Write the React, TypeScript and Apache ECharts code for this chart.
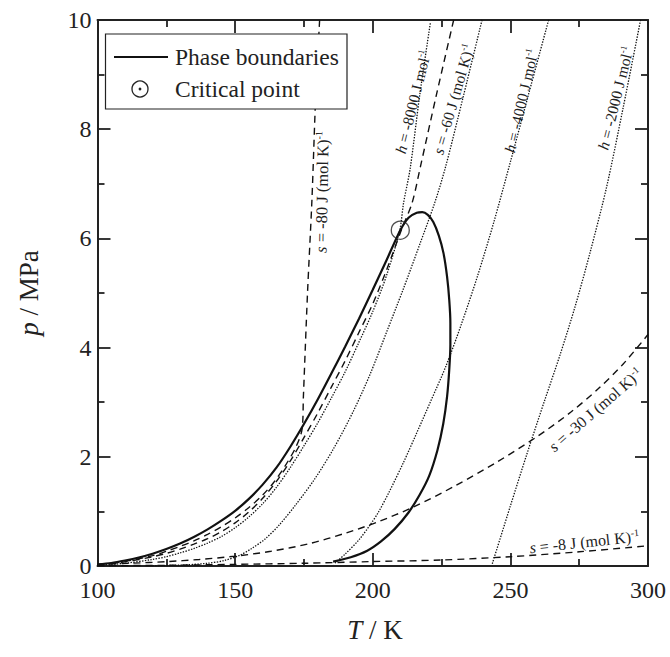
import React, { useEffect, useRef } from "react";
import * as echarts from "echarts";

const FONT = "Liberation Serif";
const INK = "#222";

// Phase envelope (bubble line -> critical region -> dew line), T / K, p / MPa
const phaseBoundary: number[][] = [
  [100, 0.03], [105, 0.055], [110, 0.1], [115, 0.155], [120, 0.225], [125, 0.31],
  [130, 0.41], [135, 0.53], [140, 0.67], [145, 0.83], [150, 1.01], [155, 1.23],
  [160, 1.49], [165, 1.8], [170, 2.18], [175, 2.6], [180, 3.05], [185, 3.53],
  [190, 4.02], [195, 4.53], [200, 5.06], [205, 5.6], [210, 6.15], [213, 6.38],
  [216, 6.47], [218, 6.48], [220, 6.43], [222, 6.3], [224, 6.05], [225.7, 5.73],
  [227, 5.3], [227.8, 4.87], [228.2, 4.45], [228.2, 4.05], [227.8, 3.6], [227, 3.1],
  [225.6, 2.6], [223.5, 2.12], [220.5, 1.65], [217, 1.3], [213, 0.98], [208, 0.68],
  [203, 0.45], [198, 0.28], [192, 0.16], [185.6, 0.08],
];

const criticalPoint: number[][] = [[210, 6.15]];

// Isentropes
const sMinus80: number[][] = [
  [180.7, 10], [179.2, 8.5], [177.9, 6.7], [176.3, 5], [174.8, 3.1], [174.3, 2.5],
  [172, 2.17], [168, 1.82], [164, 1.53], [160, 1.3], [155, 1.07], [150, 0.88],
  [145, 0.72], [140, 0.58], [135, 0.46], [130, 0.36], [125, 0.27], [120, 0.19],
  [110, 0.085], [100, 0.025],
];
const sMinus60: number[][] = [
  [229.4, 10], [223, 8.6], [217.3, 7.31], [214.3, 6.65], [210.6, 6.18], [205, 5.42],
  [200, 4.8], [195, 4.28], [190, 3.76], [185, 3.28], [180, 2.8], [175, 2.35],
  [170, 1.92], [165, 1.55], [160, 1.24], [155, 0.99], [150, 0.79], [145, 0.63],
  [140, 0.5], [135, 0.4], [130, 0.31], [125, 0.23], [120, 0.17], [110, 0.075],
  [100, 0.02],
];
const sMinus30: number[][] = [
  [100, 0.03], [112, 0.05], [125, 0.08], [137, 0.12], [150, 0.18], [163, 0.27],
  [177, 0.41], [190, 0.6], [201.5, 0.8], [214.8, 1.08], [230, 1.47], [245, 1.9],
  [259.7, 2.37], [272, 2.82], [282, 3.25], [291, 3.7], [300, 4.24],
];
const sMinus8: number[][] = [
  [100, 0.005], [125, 0.012], [150, 0.03], [175, 0.05], [199, 0.08], [225, 0.11],
  [250, 0.17], [275, 0.26], [300, 0.37],
];

// Isenthalps
const hMinus8000: number[][] = [
  [220.9, 9.94], [217, 8.6], [213.6, 7.28], [211.2, 6.65], [209.8, 6.15], [205, 5.32],
  [200, 4.66], [195, 4.1], [190, 3.56], [185, 3.08], [180, 2.62], [175, 2.2],
  [170, 1.8], [165, 1.44], [160, 1.14], [155, 0.9], [150, 0.7], [145, 0.54],
  [140, 0.42], [135, 0.32], [130, 0.24], [125, 0.17], [120, 0.12], [110, 0.05],
  [100, 0.012],
];
const hMinus6000: number[][] = [
  [239.7, 10], [233, 8.62], [226.4, 7.3], [222.5, 6.65], [217, 5.88], [211, 5.06],
  [205, 4.28], [199.1, 3.52], [193, 2.84], [186, 2.17], [179, 1.6], [172, 1.12],
  [166, 0.75], [161, 0.5], [156, 0.32], [151.8, 0.2], [146, 0.1], [140, 0.05],
  [130, 0.015], [120, 0.005],
];
const hMinus4000: number[][] = [
  [263.9, 10], [256.5, 8.62], [250, 7.4], [244, 6.3], [238, 5.3], [232, 4.4],
  [226.5, 3.65], [220.9, 3.0], [216, 2.44], [211.2, 1.9], [206, 1.36], [202, 0.98],
  [199, 0.75], [195, 0.48], [190, 0.22], [185.8, 0.03],
];
const hMinus2000: number[][] = [
  [297.3, 10], [291, 8.4], [285, 6.95], [279, 5.75], [273.5, 4.75], [268, 3.86],
  [262.5, 3.04], [256, 2.05], [250, 1.1], [243.3, 0.02],
];

// Axis range and ticks
const xMin = 100, xMax = 300, xStep = 50;
const yMin = 0, yMax = 10, yStep = 2;

// Curve annotations (anchor in data coordinates, angle in degrees)
const curveLabels = [
  { text: "{i|s} = -80 J (mol K){sup|-1}", T: 181.6, p: 6.85, angle: 89, size: 16.5 },
  { text: "{i|h} = -8000 J mol{sup|-1}", T: 214.6, p: 8.5, angle: 76, size: 15.5 },
  { text: "{i|s} = -60 J (mol K){sup|-1}", T: 229.3, p: 8.55, angle: 74, size: 15.5 },
  { text: "{i|h} = -4000 J mol{sup|-1}", T: 254.0, p: 8.52, angle: 77, size: 15.5 },
  { text: "{i|h} = -2000 J mol{sup|-1}", T: 288.2, p: 8.57, angle: 76, size: 15.5 },
  { text: "{i|s} = -30 J (mol K){sup|-1}", T: 280.9, p: 2.86, angle: 41, size: 16 },
  { text: "{i|s} = -8 J (mol K){sup|-1}", T: 276.9, p: 0.44, angle: 6, size: 16 },
];

const richFor = (size: number) => ({
  i: { fontStyle: "italic", fontFamily: FONT, fontSize: size, fill: INK, color: INK, lineHeight: size + 2 },
  sup: { fontFamily: FONT, fontSize: Math.round(size * 0.6), color: INK, fill: INK, verticalAlign: "top", lineHeight: Math.round(size * 0.6) },
});

const dashed = { type: [7, 5] as any, width: 1.4, color: "#111" };
const dotted = { type: [1.4, 1.4] as any, width: 1.3, color: "#111" };

function lineSeries(name: string, data: number[][], style: any, z = 2) {
  return {
    name,
    type: "line",
    data,
    showSymbol: false,
    smooth: 0.3,
    lineStyle: style,
    z,
    silent: true,
  };
}

function makeAxis(kind: "x" | "y", position: string, withLabels: boolean) {
  const isX = kind === "x";
  return {
    type: "value",
    min: isX ? xMin : yMin,
    max: isX ? xMax : yMax,
    interval: isX ? xStep : yStep,
    position,
    axisLine: { show: true, onZero: false, lineStyle: { color: INK, width: 2 } },
    axisTick: { show: true, inside: true, length: 13, lineStyle: { color: INK, width: 1.8 } },
    minorTick: { show: true, splitNumber: 2, length: 7, lineStyle: { color: INK, width: 1.8 } },
    splitLine: { show: false },
    minorSplitLine: { show: false },
    axisLabel: withLabels
      ? { show: true, margin: isX ? 12 : 6, color: INK, fontFamily: FONT, fontSize: 24 }
      : { show: false },
  };
}

export default function App() {
  const ref = useRef<HTMLDivElement>(null);

  useEffect(() => {
    if (!ref.current) return;
    const chart = echarts.init(ref.current, undefined, { renderer: "svg" });

    chart.setOption({
      animation: false,
      backgroundColor: "#fff",
      textStyle: { fontFamily: FONT, color: INK },
      grid: { left: 97.5, right: 22, top: 20, bottom: 91, containLabel: false },
      xAxis: [makeAxis("x", "bottom", true), makeAxis("x", "top", false)],
      yAxis: [makeAxis("y", "left", true), makeAxis("y", "right", false)],
      series: [
        lineSeries("s = -8", sMinus8, dashed),
        lineSeries("s = -30", sMinus30, dashed),
        lineSeries("h = -2000", hMinus2000, dotted),
        lineSeries("h = -4000", hMinus4000, dotted),
        lineSeries("h = -6000", hMinus6000, dotted),
        lineSeries("h = -8000", hMinus8000, dotted),
        lineSeries("s = -60", sMinus60, dashed),
        lineSeries("s = -80", sMinus80, dashed),
        {
          ...lineSeries("Phase boundaries", phaseBoundary, { width: 2.2, color: "#111", type: "solid" }, 5),
          smooth: 0.25,
        },
        {
          name: "Critical point",
          type: "scatter",
          data: criticalPoint,
          symbol: "circle",
          symbolSize: 18,
          itemStyle: { color: "rgba(0,0,0,0)", borderColor: INK, borderWidth: 1.3 },
          z: 6,
          silent: true,
        },
      ],
    });

    const toPx = (T: number, p: number) =>
      chart.convertToPixel({ xAxisIndex: 0, yAxisIndex: 0 } as any, [T, p]) as number[];

    const graphics: any[] = [];

    curveLabels.forEach((l) => {
      const pt = toPx(l.T, l.p);
      graphics.push({
        type: "text",
        x: pt[0],
        y: pt[1],
        rotation: (l.angle * Math.PI) / 180,
        z: 20,
        silent: true,
        style: {
          text: l.text,
          rich: richFor(l.size),
          fontFamily: FONT,
          fontSize: l.size,
          fill: INK,
          align: "center",
          verticalAlign: "middle",
        },
      });
    });

    graphics.push({
      type: "text",
      x: 375,
      y: 630,
      z: 20,
      style: {
        text: "{i|T} / K",
        rich: { i: { fontStyle: "italic", fontFamily: FONT, fontSize: 27, fill: INK } },
        fontFamily: FONT,
        fontSize: 27,
        fill: INK,
        align: "center",
        verticalAlign: "middle",
      },
    });
    graphics.push({
      type: "text",
      x: 29,
      y: 293,
      rotation: Math.PI / 2,
      z: 20,
      style: {
        text: "{i|p} / MPa",
        rich: { i: { fontStyle: "italic", fontFamily: FONT, fontSize: 27, fill: INK } },
        fontFamily: FONT,
        fontSize: 27,
        fill: INK,
        align: "center",
        verticalAlign: "middle",
      },
    });

    graphics.push({
      type: "group",
      z: 30,
      children: [
        {
          type: "rect",
          shape: { x: 105.5, y: 34, width: 241.5, height: 75 },
          style: { fill: "#fff", stroke: INK, lineWidth: 1.2 },
          z: 30,
        },
        {
          type: "line",
          shape: { x1: 114, y1: 57, x2: 168, y2: 57 },
          style: { stroke: "#111", lineWidth: 1.8 },
          z: 31,
        },
        {
          type: "text",
          x: 175,
          y: 57,
          z: 31,
          style: { text: "Phase boundaries", fontFamily: FONT, fontSize: 23.5, fill: INK, align: "left", verticalAlign: "middle" },
        },
        {
          type: "circle",
          shape: { cx: 140, cy: 89, r: 8 },
          style: { fill: "#fff", stroke: INK, lineWidth: 1.3 },
          z: 31,
        },
        {
          type: "circle",
          shape: { cx: 140, cy: 89, r: 1.4 },
          style: { fill: INK },
          z: 32,
        },
        {
          type: "text",
          x: 175,
          y: 89,
          z: 31,
          style: { text: "Critical point", fontFamily: FONT, fontSize: 23.5, fill: INK, align: "left", verticalAlign: "middle" },
        },
      ],
    });

    chart.setOption({ graphic: graphics });

    return () => {
      chart.dispose();
    };
  }, []);

  return (
    <div
      ref={ref}
      style={{ position: "absolute", left: 0, top: 0, width: 670, height: 657, background: "#fff" }}
    />
  );
}
